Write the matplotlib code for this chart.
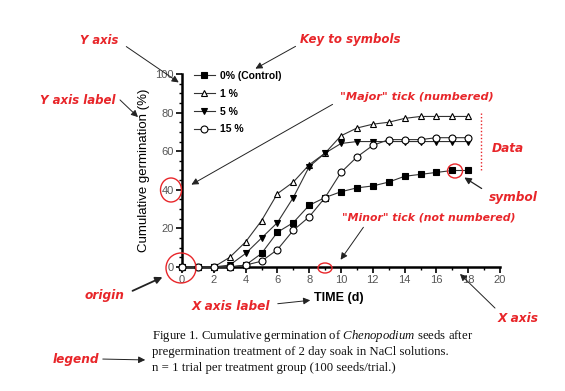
import matplotlib
matplotlib.use("Agg")
import matplotlib.pyplot as plt
from matplotlib.patches import Ellipse
from matplotlib.lines import Line2D
from matplotlib.ticker import MultipleLocator

plt.rcParams["mathtext.fontset"] = "custom"
plt.rcParams["mathtext.rm"] = "Liberation Serif"
plt.rcParams["mathtext.it"] = "Liberation Serif:italic"

days = list(range(0, 19))
control = [0, 0, 0, 0, 1, 7, 18, 23, 32, 36, 39, 41, 42, 44, 47, 48, 49, 50, 50]
nacl_1 = [0, 0, 0, 5, 13, 24, 38, 44, 53, 59, 68, 72, 74, 75, 77, 78, 78, 78, 78]
nacl_5 = [0, 0, 0, 1, 7, 15, 23, 36, 52, 59, 64, 65, 65, 65, 65, 65, 65, 65, 65]
nacl_15 = [0, 0, 0, 0, 1, 3, 9, 19, 26, 36, 49, 57, 63, 66, 66, 66, 67, 67, 67]
series_labels = ["0% (Control)", "1 %", "5 %", "15 %"]
x_ticks = [0, 2, 4, 6, 8, 10, 12, 14, 16, 18, 20]
y_ticks = [0, 20, 40, 60, 80, 100]

W, H = 565, 391
fig = plt.figure(figsize=(W / 100, H / 100), dpi=100)
fig.patch.set_facecolor("white")

def P(x, y):
    return (x / W, 1 - y / H)

ax = fig.add_axes([182 / W, (H - 267) / H, 318 / W, 193 / H])
ax.set_xlim(0, 20)
ax.set_ylim(0, 100)
for s in ["top", "right"]:
    ax.spines[s].set_visible(False)
for s in ["left", "bottom"]:
    ax.spines[s].set_linewidth(1.8)
    ax.spines[s].set_zorder(1)
ax.set_xticks(x_ticks)
ax.set_yticks(y_ticks)
ax.xaxis.set_minor_locator(MultipleLocator(1))
ax.yaxis.set_minor_locator(MultipleLocator(5))
ax.tick_params(which="major", direction="out", length=4, width=1.2, labelsize=8,
               labelcolor="#555555", pad=2)
ax.tick_params(which="minor", direction="out", length=2.5, width=1)
for lab in ax.get_xticklabels() + ax.get_yticklabels():
    lab.set_family("Liberation Sans")

styles = [
    dict(marker="s", mfc="black", mec="black"),
    dict(marker="^", mfc="white", mec="black"),
    dict(marker="v", mfc="black", mec="black"),
    dict(marker="o", mfc="white", mec="black"),
]
handles = []
for data, st, lab in zip([control, nacl_1, nacl_5, nacl_15], styles, series_labels):
    h, = ax.plot(days, data, color="#333333", lw=0.8, ms=5, mew=0.8, label=lab,
                 clip_on=False, zorder=3, **st)
    handles.append(h)

leg = ax.legend(handles=handles, loc="upper left", bbox_to_anchor=P(194, 71),
                bbox_transform=fig.transFigure, frameon=False,
                prop={"family": "Liberation Sans", "weight": "bold", "size": 7.5},
                handlelength=2.0, handletextpad=0.5, labelspacing=0.75,
                borderpad=0, borderaxespad=0)

ax.set_ylabel("Cumulative germination (%)", family="Liberation Sans", fontsize=9.5,
              color="black", labelpad=4)
fig.text(*P(339, 298), "TIME (d)", family="Liberation Sans", fontweight="bold",
         fontsize=9, ha="center", va="center")

# caption
cap_kw = dict(family="Liberation Serif", fontsize=9.2, color="#111111", va="center")
fig.text(*P(152, 336), "Figure 1. Cumulative germination of $\\mathit{Chenopodium}$ seeds after",
         **cap_kw)
fig.text(*P(152, 352), "pregermination treatment of 2 day soak in NaCl solutions.", **cap_kw)
fig.text(*P(152, 368), "n = 1 trial per treatment group (100 seeds/trial.)", **cap_kw)

red = "#e8262a"
ann_kw = dict(color=red, fontweight="bold", style="italic", family="DejaVu Sans",
              va="center")

def note(x, y, s, size=8.7):
    fig.text(*P(x, y), s, ha="left", fontsize=size, **ann_kw)

def arrow(x0, y0, x1, y1, head=True, lw=0.7, color="#222222"):
    fig.add_artist(matplotlib.patches.FancyArrowPatch(
        P(x0, y0), P(x1, y1), transform=fig.transFigure,
        arrowstyle="-|>" if head else "-", mutation_scale=10, lw=lw, color=color))

def ring(x, y, w, h):
    fig.add_artist(Ellipse(P(x, y), w / W, h / H, transform=fig.transFigure,
                           fill=False, ec=red, lw=1.0, zorder=10))

note(80, 40, "Y axis", 8.3)
arrow(124, 45, 181, 84)
note(300, 40, "Key to symbols", 8.5)
arrow(298, 45, 253, 70)
note(40, 100, "Y axis label", 8.5)
arrow(118, 98, 140, 119)
note(340, 97, '"Major" tick (numbered)', 8.1)
arrow(335, 103, 189, 186)
ring(171, 190, 21, 24)
note(492, 148, "Data")
fig.add_artist(Line2D([481 / W, 481 / W], [1 - 113 / H, 1 - 170 / H],
                      transform=fig.transFigure, color=red, lw=1.0, ls=(0, (1, 1.5))))
ring(455, 171, 15, 14)
note(489, 197, "symbol")
arrow(484, 190, 462, 176, lw=0.9)
note(342, 217, '"Minor" tick (not numbered)', 7.8)
arrow(365, 225, 339, 262)
ring(325, 268, 14, 10)
ring(181, 268, 30, 30)
note(85, 295, "origin")
arrow(130, 292, 165, 276, lw=1.3)
note(192, 307, "X axis label", 8.7)
arrow(275, 304, 313, 300)
note(498, 319, "X axis")
arrow(497, 310, 458, 272)
note(53, 359, "legend")
arrow(100, 359, 148, 360)

fig.savefig("out.png", dpi=100, facecolor="white")
